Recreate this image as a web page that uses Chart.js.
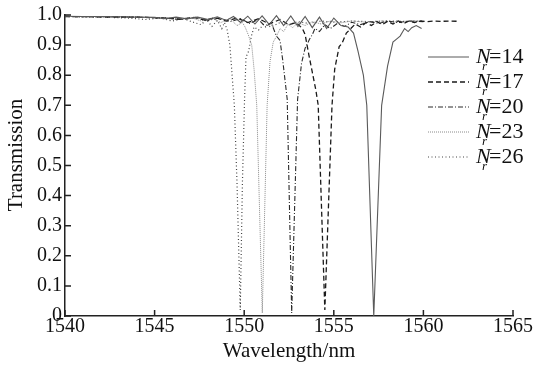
<!DOCTYPE html>
<html>
<head>
<meta charset="utf-8">
<script src="https://cdn.jsdelivr.net/npm/chart.js@4.4.1/dist/chart.umd.min.js"></script>
<style>
  html, body { margin: 0; padding: 0; background: #fff; }
  #wrap { width: 534px; height: 367px; }
</style>
</head>
<body>
<div id="wrap"><canvas id="chart" width="534" height="367"></canvas></div>
<script>
'use strict';

// data (wavelength in nm, transmission 0..1)
var wl14 = [1540, 1541, 1542, 1543, 1544, 1545, 1545.6, 1546.2, 1546.8, 1547.4, 1548, 1548.5, 1549, 1549.4, 1549.8, 1550.2, 1550.6, 1551, 1551.4, 1551.8, 1552.2, 1552.6, 1553, 1553.4, 1553.8, 1554.2, 1554.6, 1555, 1555.4, 1555.8, 1556.1, 1556.35, 1556.65, 1556.84, 1557.23, 1557.67, 1558.0, 1558.3, 1558.5, 1558.7, 1558.95, 1559.15, 1559.35, 1559.6, 1559.9]
var t14 = [0.996, 0.995, 0.995, 0.994, 0.993, 0.992, 0.988, 0.993, 0.987, 0.993, 0.985, 0.994, 0.982, 0.995, 0.975, 0.996, 0.97, 0.997, 0.968, 0.998, 0.965, 0.997, 0.962, 0.995, 0.958, 0.993, 0.955, 0.99, 0.965, 0.96, 0.94, 0.88, 0.80, 0.70, 0.0, 0.70, 0.83, 0.91, 0.92, 0.93, 0.955, 0.945, 0.958, 0.965, 0.955]

var wl17 = [1540, 1542, 1544, 1545.5, 1546.5, 1547.2, 1547.8, 1548.4, 1549, 1549.6, 1550.2, 1550.8, 1551.4, 1552, 1552.5, 1552.9, 1553.25, 1553.4, 1553.6, 1553.8, 1554.0, 1554.13, 1554.5, 1554.9, 1555.05, 1555.3, 1555.45, 1555.7, 1555.95, 1556.2, 1556.5, 1556.8, 1557.1, 1557.4, 1557.7, 1558, 1558.3, 1558.6, 1558.9, 1559.2, 1559.5, 1559.8, 1560.2, 1560.6, 1561, 1561.5, 1562]
var t17 = [0.995, 0.994, 0.993, 0.99, 0.986, 0.992, 0.983, 0.991, 0.98, 0.99, 0.975, 0.988, 0.97, 0.985, 0.968, 0.975, 0.955, 0.935, 0.87, 0.81, 0.75, 0.70, 0.02, 0.70, 0.82, 0.895, 0.905, 0.94, 0.955, 0.97, 0.96, 0.975, 0.965, 0.978, 0.968, 0.979, 0.97, 0.98, 0.972, 0.98, 0.975, 0.98, 0.978, 0.98, 0.979, 0.98, 0.979]

var wl20 = [1540, 1542, 1544, 1545.5, 1546.5, 1547.3, 1548, 1548.6, 1549.2, 1549.8, 1550.3, 1550.8, 1551.2, 1551.5, 1551.8, 1552.0, 1552.15, 1552.4, 1552.65, 1552.98, 1553.2, 1553.4, 1553.65, 1553.8, 1553.95, 1554.2, 1554.5, 1554.8, 1555.2, 1555.6, 1556, 1556.5, 1557, 1557.5, 1558, 1558.6, 1559.2, 1560]
var t20 = [0.995, 0.994, 0.993, 0.99, 0.985, 0.992, 0.982, 0.99, 0.978, 0.988, 0.972, 0.985, 0.96, 0.975, 0.93, 0.915, 0.85, 0.72, 0.01, 0.72, 0.84, 0.89, 0.92, 0.935, 0.955, 0.945, 0.968, 0.955, 0.972, 0.962, 0.976, 0.968, 0.978, 0.972, 0.98, 0.975, 0.98, 0.978]

var wl23 = [1540, 1542, 1544, 1545.5, 1546.3, 1547, 1547.6, 1548.2, 1548.7, 1549.2, 1549.6, 1549.9, 1550.05, 1550.23, 1550.42, 1550.55, 1550.7, 1551.01, 1551.28, 1551.44, 1551.62, 1551.81, 1552.0, 1552.2, 1552.45, 1552.7, 1553, 1553.4, 1553.8, 1554.3, 1554.8, 1555.4, 1556, 1556.8, 1557.6, 1558.5, 1559.3, 1560]
var t23 = [0.995, 0.994, 0.993, 0.99, 0.985, 0.992, 0.98, 0.99, 0.975, 0.988, 0.965, 0.975, 0.96, 0.934, 0.9, 0.82, 0.70, 0.01, 0.70, 0.845, 0.91, 0.93, 0.955, 0.945, 0.97, 0.958, 0.975, 0.965, 0.978, 0.97, 0.98, 0.974, 0.98, 0.976, 0.98, 0.977, 0.98, 0.979]

var wl26 = [1540, 1542, 1543.5, 1544.5, 1545.3, 1546, 1546.6, 1547.2, 1547.6, 1547.9, 1548.2, 1548.5, 1548.75, 1548.9, 1549.05, 1549.2, 1549.3, 1549.45, 1549.6, 1549.78, 1549.9, 1550.02, 1550.1, 1550.25, 1550.4, 1550.55, 1550.8, 1551.1, 1551.5, 1552, 1552.5, 1553, 1553.6, 1554.3, 1555, 1556, 1557, 1558, 1559, 1560]
var t26 = [0.995, 0.993, 0.99, 0.985, 0.99, 0.98, 0.988, 0.975, 0.968, 0.985, 0.962, 0.982, 0.955, 0.975, 0.95, 0.9, 0.82, 0.7, 0.44, 0.02, 0.44, 0.72, 0.86, 0.88, 0.93, 0.96, 0.95, 0.97, 0.96, 0.975, 0.968, 0.978, 0.972, 0.98, 0.976, 0.98, 0.978, 0.98, 0.979, 0.98]

var seriesNr = ['14', '17', '20', '23', '26']
var xTicks = [1540, 1545, 1550, 1555, 1560, 1565]
var yTicks = [0, 0.1, 0.2, 0.3, 0.4, 0.5, 0.6, 0.7, 0.8, 0.9, 1.0]

var serif = '"Liberation Serif", "DejaVu Serif", serif'

function toPoints(xs, ys) {
    return xs.map(function (v, i) { return {x: v, y: ys[i]} })
}

function makeSet(label, xs, ys, color, width, dash) {
    return {
        label: label,
        data: toPoints(xs, ys),
        borderColor: color,
        borderWidth: width,
        borderDash: dash,
        pointRadius: 0,
        fill: false,
        clip: false,
        tension: 0
    }
}

// ticks point inward, drawn on top of the axis lines
var innerTicks = {
    id: 'innerTicks',
    afterDraw(chart) {
        let ctx = chart.ctx
        let area = chart.chartArea
        let x = chart.scales.x
        let y = chart.scales.y
        ctx.save()
        ctx.strokeStyle = '#222'
        ctx.lineWidth = 1.5
        ctx.beginPath()
        xTicks.forEach(function (v) {
            let px = x.getPixelForValue(v)
            ctx.moveTo(px, area.bottom)
            ctx.lineTo(px, area.bottom - 6)
        })
        yTicks.forEach(function (v) {
            let py = y.getPixelForValue(v)
            ctx.moveTo(area.left, py)
            ctx.lineTo(area.left + 6, py)
        })
        ctx.stroke()
        ctx.restore()
    }
}

// y title sits a bit above the plot centre in the original
var yTitle = {
    id: 'yTitle',
    afterDraw(chart) {
        let ctx = chart.ctx
        ctx.save()
        ctx.translate(16, 155)
        ctx.rotate(-Math.PI / 2)
        ctx.font = '21px ' + serif
        ctx.fillStyle = '#111'
        ctx.textAlign = 'center'
        ctx.textBaseline = 'middle'
        ctx.fillText('Transmission', 0, 0)
        ctx.restore()
    }
}

// legend with italic N and subscript r
var nrLegend = {
    id: 'nrLegend',
    afterDraw(chart) {
        let ctx = chart.ctx
        ctx.save()
        chart.data.datasets.forEach(function (ds, i) {
            let ly = 57 + i * 25
            ctx.beginPath()
            ctx.strokeStyle = ds.borderColor
            ctx.lineWidth = ds.borderWidth
            ctx.setLineDash(ds.borderDash || [])
            ctx.moveTo(428, ly)
            ctx.lineTo(469, ly)
            ctx.stroke()
            ctx.setLineDash([])
            ctx.fillStyle = '#111'
            ctx.textBaseline = 'middle'
            ctx.textAlign = 'left'
            ctx.font = 'italic 22px ' + serif
            ctx.fillText('N', 476, ly)
            ctx.font = 'italic 13px ' + serif
            ctx.fillText('r', 482, ly + 10)
            ctx.font = '22px ' + serif
            ctx.fillText('=' + seriesNr[i], 489, ly)
        })
        ctx.restore()
    }
}

var config = {
    type: 'line',
    data: {
        datasets: [
            makeSet('Nr=14', wl14, t14, '#5a5a5a', 1.1, []),
            makeSet('Nr=17', wl17, t17, '#1a1a1a', 1.3, [5, 3]),
            makeSet('Nr=20', wl20, t20, '#2a2a2a', 1.1, [5, 2, 1, 2]),
            makeSet('Nr=23', wl23, t23, '#8a8a8a', 1.0, [1, 1]),
            makeSet('Nr=26', wl26, t26, '#444444', 1.2, [1, 2.5])
        ]
    },
    options: {
        responsive: false,
        animation: false,
        layout: { padding: { top: 15, right: 21, left: 0, bottom: 0 } },
        plugins: {
            legend: { display: false },
            tooltip: { enabled: false }
        },
        scales: {
            x: {
                type: 'linear',
                min: 1540,
                max: 1565,
                afterFit: function (s) { s.height = 51 },
                afterBuildTicks: function (s) { s.ticks = xTicks.map(function (v) { return {value: v} }) },
                ticks: {
                    font: { family: serif, size: 20 },
                    color: '#111',
                    padding: -1,
                    maxRotation: 0,
                    autoSkip: false,
                    callback: function (v) { return String(v) }
                },
                grid: { display: false, drawTicks: false },
                border: { display: true, color: '#222', width: 1.5 },
                title: { display: true, text: 'Wavelength/nm', font: { family: serif, size: 21 }, color: '#111', padding: { top: 0, bottom: 3 } }
            },
            y: {
                min: 0,
                max: 1,
                afterFit: function (s) { s.width = 65 },
                afterBuildTicks: function (s) { s.ticks = yTicks.map(function (v) { return {value: v} }) },
                ticks: {
                    font: { family: serif, size: 20 },
                    color: '#111',
                    padding: 3,
                    callback: function (v) { return v === 0 ? '0' : v.toFixed(1) }
                },
                grid: { display: false, drawTicks: false },
                border: { display: true, color: '#222', width: 1.5 }
            }
        }
    },
    plugins: [innerTicks, yTitle, nrLegend]
}

new Chart(document.getElementById('chart'), config)
</script>
</body>
</html>
